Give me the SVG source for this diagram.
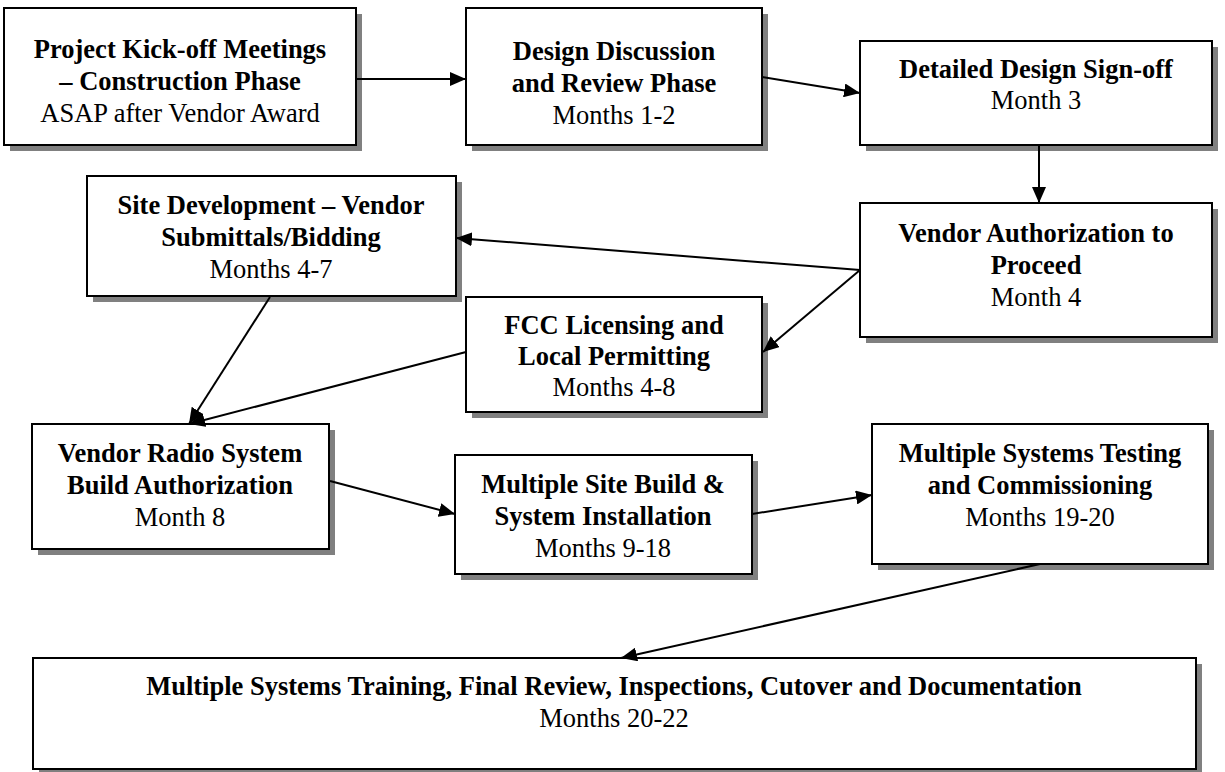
<svg xmlns="http://www.w3.org/2000/svg" width="1225" height="772" viewBox="0 0 1225 772">
<style>
.sh{fill:#808080}
.bx{fill:#fff;stroke:#000;stroke-width:2}
text{font-family:"Liberation Serif","Times New Roman",serif;font-size:26.5px;fill:#000;text-anchor:middle}
.b{font-weight:bold}
.c line{stroke:#000;stroke-width:2;marker-end:url(#ah)}
</style>
<defs>
<marker id="ah" markerUnits="userSpaceOnUse" markerWidth="17" markerHeight="14" refX="16" refY="7" orient="auto">
<path d="M0,0 L16,7 L0,14 z" fill="#000"/>
</marker>
</defs>
<rect width="1225" height="772" fill="#fff"/>

<g id="n1">
<rect class="sh" x="10" y="14" width="352" height="137"/>
<rect class="bx" x="4" y="8" width="352" height="137"/>
<text class="b" x="180" y="58">Project Kick-off Meetings</text>
<text class="b" x="180" y="90">– Construction Phase</text>
<text x="180" y="122">ASAP after Vendor Award</text>
</g>
<g id="n2">
<rect class="sh" x="472" y="14" width="296" height="137"/>
<rect class="bx" x="466" y="8" width="296" height="137"/>
<text class="b" x="614" y="60">Design Discussion</text>
<text class="b" x="614" y="92">and Review Phase</text>
<text x="614" y="124">Months 1-2</text>
</g>
<g id="n3">
<rect class="sh" x="866" y="47" width="352" height="104"/>
<rect class="bx" x="860" y="41" width="352" height="104"/>
<text class="b" x="1036" y="78">Detailed Design Sign-off</text>
<text x="1036" y="109">Month 3</text>
</g>
<g id="n4">
<rect class="sh" x="866" y="209" width="352" height="134"/>
<rect class="bx" x="860" y="203" width="352" height="134"/>
<text class="b" x="1036" y="242">Vendor Authorization to</text>
<text class="b" x="1036" y="274">Proceed</text>
<text x="1036" y="306">Month 4</text>
</g>
<g id="n5">
<rect class="sh" x="93" y="182" width="369" height="120"/>
<rect class="bx" x="87" y="176" width="369" height="120"/>
<text class="b" x="271" y="214">Site Development – Vendor</text>
<text class="b" x="271" y="246">Submittals/Bidding</text>
<text x="271" y="278">Months 4-7</text>
</g>
<g id="n6">
<rect class="sh" x="472" y="303" width="296" height="115"/>
<rect class="bx" x="466" y="297" width="296" height="115"/>
<text class="b" x="614" y="334">FCC Licensing and</text>
<text class="b" x="614" y="365">Local Permitting</text>
<text x="614" y="396">Months 4-8</text>
</g>
<g id="n7">
<rect class="sh" x="38" y="430" width="297" height="125"/>
<rect class="bx" x="32" y="424" width="297" height="125"/>
<text class="b" x="180" y="462">Vendor Radio System</text>
<text class="b" x="180" y="494">Build Authorization</text>
<text x="180" y="526">Month 8</text>
</g>
<g id="n8">
<rect class="sh" x="461" y="461" width="297" height="119"/>
<rect class="bx" x="455" y="455" width="297" height="119"/>
<text class="b" x="603" y="493">Multiple Site Build &amp;</text>
<text class="b" x="603" y="525">System Installation</text>
<text x="603" y="557">Months 9-18</text>
</g>
<g id="n9">
<rect class="sh" x="878" y="430" width="336" height="140"/>
<rect class="bx" x="872" y="424" width="336" height="140"/>
<text class="b" x="1040" y="462">Multiple Systems Testing</text>
<text class="b" x="1040" y="494">and Commissioning</text>
<text x="1040" y="526">Months 19-20</text>
</g>
<g id="n10">
<rect class="sh" x="39" y="664" width="1163" height="111"/>
<rect class="bx" x="33" y="658" width="1163" height="111"/>
<text class="b" x="614" y="695">Multiple Systems Training, Final Review, Inspections, Cutover and Documentation</text>
<text x="614" y="727">Months 20-22</text>
</g>

<g class="c" id="connectors">
<line x1="357" y1="79" x2="466" y2="79"/>
<line x1="762" y1="77" x2="860" y2="93"/>
<line x1="1039" y1="145" x2="1039" y2="203"/>
<line x1="860" y1="270" x2="456" y2="238"/>
<line x1="860" y1="270" x2="763" y2="352"/>
<line x1="270" y1="297" x2="189" y2="424"/>
<line x1="466" y1="352" x2="189" y2="424"/>
<line x1="330" y1="481" x2="455" y2="514"/>
<line x1="752" y1="514" x2="872" y2="495"/>
<line x1="1040" y1="564" x2="621" y2="658"/>
</g>
</svg>
